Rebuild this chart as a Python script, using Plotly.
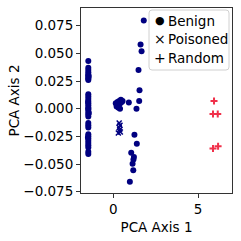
import plotly.graph_objects as go

# Benign points
benign_x = [-1.47]*33 + [-1.45, -1.49, -1.44, -1.48] + \
    [0.15, 0.2, 0.25, 0.3, 0.35, 0.4, 0.45, 0.5, 0.55, 0.3, 0.4, 0.2, 0.92,
     1.80, 1.61, 1.67, 1.49, 1.55, 1.53, 1.37,
     1.25, 1.39, 1.06, 1.22, 1.19, 1.14, 1.18, 0.98]
benign_y = [0.043, 0.037, 0.035, 0.033, 0.031, 0.030, 0.028, 0.027, 0.026,
            0.013, 0.011, 0.009, 0.007, 0.005, 0.003, 0.001, -0.001, -0.003, -0.005, -0.007,
            -0.013, -0.015, -0.017,
            -0.023, -0.025, -0.027, -0.029, -0.031, -0.033, -0.035,
            -0.039, -0.041, 0.0] + [0.029, -0.026, -0.004, 0.006] + \
    [0.005, 0.004, 0.006, 0.003, 0.007, 0.005, 0.008, 0.006, 0.007, 0.001, 0.0, 0.002, 0.0057,
     0.0798, 0.058, 0.052, 0.035, 0.0166, 0.007, 0.0,
     -0.0235, -0.0316, -0.0398, -0.0437, -0.046, -0.0497, -0.0557, -0.066]

# Poisoned points
poisoned_x = [0.35, 0.4, 0.35, 0.38, 0.3, 0.42, 0.3, 0.35, 0.4]
poisoned_y = [-0.013, -0.015, -0.017, -0.019, -0.022, -0.021, 0.003, 0.001, 0.002]

# Random points
random_x = [5.94, 5.88, 6.16, 5.88, 6.18]
random_y = [0.007, -0.0048, -0.0048, -0.036, -0.034]

legend_names = ["Benign", "Poisoned", "Random"]
legend_symbols = ["●", "×", "+"]

navy = "#000080"
red = "#f0304a"

fig = go.Figure()
fig.add_trace(go.Scatter(x=benign_x, y=benign_y, mode="markers", name="Benign", showlegend=False,
                         marker=dict(symbol="circle", size=6, color=navy)))
fig.add_trace(go.Scatter(x=poisoned_x, y=poisoned_y, mode="markers", name="Poisoned", showlegend=False,
                         marker=dict(symbol="x-thin", size=5, color=navy, line=dict(width=1.5, color=navy))))
fig.add_trace(go.Scatter(x=random_x, y=random_y, mode="markers", name="Random", showlegend=False,
                         marker=dict(symbol="cross-thin", size=5, color=red, line=dict(width=2, color=red))))

axis_common = dict(showline=True, linecolor="#333333", linewidth=1, mirror=True,
                   ticks="outside", ticklen=4, tickcolor="#333333", showgrid=False, zeroline=False,
                   automargin=False,
                   tickfont=dict(family="DejaVu Sans", size=13.5, color="black"))

# plot area in pixels: x 81..232, y 8..193
L, R, T, B = 81, 232, 8, 193
W, H = R - L, B - T
def px(x):
    return (x - L) / W
def py(y):
    return (B - y) / H

# hand-made legend box (matplotlib style)
r = 3
x0, x1, y0, y1 = 149, 229, 10, 70
path = (f"M {px(x0 + r)} {py(y0)} L {px(x1 - r)} {py(y0)} Q {px(x1)} {py(y0)} {px(x1)} {py(y0 + r)} "
        f"L {px(x1)} {py(y1 - r)} Q {px(x1)} {py(y1)} {px(x1 - r)} {py(y1)} "
        f"L {px(x0 + r)} {py(y1)} Q {px(x0)} {py(y1)} {px(x0)} {py(y1 - r)} "
        f"L {px(x0)} {py(y0 + r)} Q {px(x0)} {py(y0)} {px(x0 + r)} {py(y0)} Z")
fig.add_shape(type="path", path=path, xref="paper", yref="paper",
              line=dict(color="#d0d0d0", width=1), fillcolor="rgba(255,255,255,0.85)")

rows_y = [20.7, 39.3, 57.7]
sym_sizes = [11, 14, 14]
for name, sym, ry, ss in zip(legend_names, legend_symbols, rows_y, sym_sizes):
    fig.add_annotation(x=px(160), y=py(ry), xref="paper", yref="paper", text=sym,
                       showarrow=False, xanchor="center", yanchor="middle",
                       font=dict(family="DejaVu Sans", size=ss, color="black"))
    fig.add_annotation(x=px(166), y=py(ry), xref="paper", yref="paper", text=name,
                       showarrow=False, xanchor="left", yanchor="middle",
                       font=dict(family="DejaVu Sans", size=13.5, color="black"))

fig.update_layout(
    width=241, height=241,
    margin=dict(l=L, r=241 - R, t=T, b=241 - B),
    plot_bgcolor="white", paper_bgcolor="white",
    font=dict(family="DejaVu Sans", size=13.5, color="black"),
    xaxis=dict(range=[-1.9, 7.0], tickvals=[0, 5], ticktext=["0", "5"],
               title=dict(text="PCA Axis 1", font=dict(size=13.5), standoff=6), **axis_common),
    yaxis=dict(range=[-0.0762, 0.091], tickvals=[-0.075, -0.05, -0.025, 0, 0.025, 0.05, 0.075],
               tickformat=".3f", title=dict(text="PCA Axis 2", font=dict(size=13.5), standoff=0),
               **axis_common),
    showlegend=False,
)

fig.write_html("out.html", config={"displayModeBar": False},
               post_script="document.body.style.margin='0';")
